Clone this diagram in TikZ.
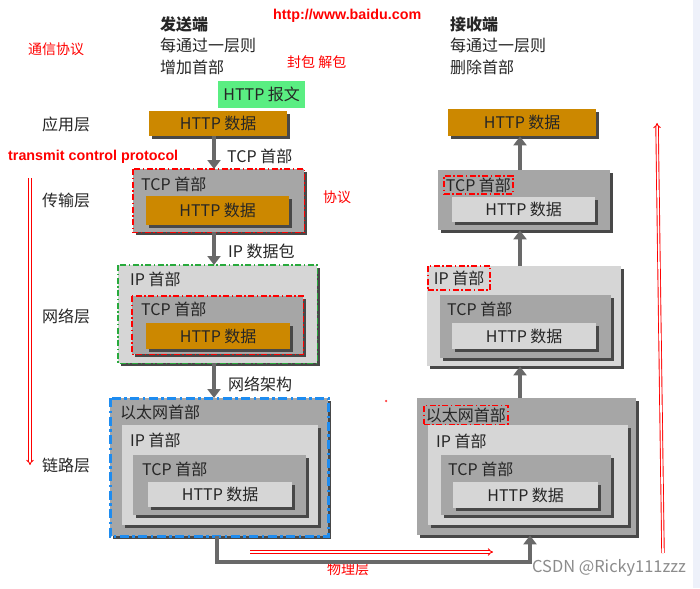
\documentclass[tikz,border=0pt]{standalone}
\usepackage{fontspec}
\setmainfont{Noto Sans CJK SC}
\newfontfamily\arialf{Liberation Sans}
\usetikzlibrary{arrows.meta,shadows}
\definecolor{orangeb}{RGB}{204,136,0}
\definecolor{midg}{RGB}{166,166,166}
\definecolor{lightg}{RGB}{214,214,214}
\definecolor{shd}{RGB}{72,72,72}
\definecolor{txt}{RGB}{38,38,38}
\definecolor{arrg}{RGB}{105,105,105}
\definecolor{greenb}{RGB}{90,238,130}
\definecolor{blued}{RGB}{30,140,240}
\definecolor{dgreen}{RGB}{40,170,60}
\definecolor{strip}{RGB}{238,241,250}
\definecolor{wm}{RGB}{140,140,140}
\tikzset{
  t/.style={font=\fontsize{16}{16}\selectfont,text=txt,inner sep=0pt,anchor=west},
  tb/.style={t,font=\fontsize{16}{16}\selectfont\bfseries},
  rt/.style={font=\fontsize{14}{14}\selectfont,text=red,inner sep=0pt,anchor=west},
  et/.style={font=\arialf\bfseries\fontsize{14.3}{14.3}\selectfont,text=red,inner sep=0pt,anchor=west},
  shd3/.style={drop shadow={shadow xshift=3pt,shadow yshift=-3pt,fill=shd,opacity=1}},
  boxa/.style={anchor=north west,inner sep=0pt,draw=none,font=\fontsize{16}{16}\selectfont,text=txt},
  rdd/.style={draw=red,line width=1.8pt,dash pattern=on 6pt off 2.5pt on 1.5pt off 2.5pt},
  gdd/.style={draw=dgreen,line width=1.8pt,dash pattern=on 6pt off 2.5pt on 1.5pt off 2.5pt},
  bdd/.style={draw=blued,line width=3pt,dash pattern=on 9pt off 3.5pt on 2.5pt off 3.5pt},
  garr/.style={draw=arrg,line width=4.5pt,-{Triangle[width=13pt,length=9pt]}},
  rarr/.style={draw=red,double=white,double distance=1.6pt,line width=0.9pt,-{Implies[scale=1.5]}},
}
\begin{document}
\begin{tikzpicture}[x=1pt,y=-1pt]
\useasboundingbox (0,0) rectangle (700,588);
\fill[white] (0,0) rectangle (700,588);
\fill[strip] (693,0) rectangle (700,588);

% headings
\node[tb] (sendh) at (160,24) {发送端};
\node[t] (send1) at (160,45) {每通过一层则};
\node[t] (send2) at (160,67) {增加首部};
\node[tb] (recvh) at (450,24) {接收端};
\node[t] (recv1) at (450,45) {每通过一层则};
\node[t] (recv2) at (450,67) {删除首部};
\node[et] (url) at (273,16) {http://www.baidu.com};
\node[rt] (txxy) at (28,49) {通信协议};
\node[rt] (fb) at (287,62) {封包 解包};
\node[rt] (xy) at (323,197) {协议};
\node[et] (tcpname) at (8,157) {transmit control protocol};
\node[rt] (wlc) at (327,569) {物理层};
\node[t,text=wm,font=\fontsize{16.4}{16.4}\selectfont] (csdn) at (532,568) {CSDN @Ricky111zzz};

% layer names
\node[t] (yy) at (42,124) {应用层};
\node[t] (cs) at (42,200) {传输层};
\node[t] (wl) at (42,316) {网络层};
\node[t] (ll) at (42,465) {链路层};

% ---------- sender ----------
\node[boxa,fill=greenb,minimum width=87pt,minimum height=27pt] (LG) at (218,81) {HTTP 报文};
\node[boxa,shd3,fill=orangeb,minimum width=138pt,minimum height=25pt] (L0) at (149,111) {HTTP 数据};

\node[boxa,shd3,fill=midg,minimum width=171pt,minimum height=63pt] (L1) at (133,169) {};
\node[t] (L1l) at (141,184) {TCP 首部};
\node[boxa,shd3,fill=orangeb,minimum width=143pt,minimum height=29pt] (L1h) at (146,196) {HTTP 数据};
\draw[rdd] (L1.north west) rectangle (L1.south east);

\node[boxa,shd3,fill=lightg,minimum width=199pt,minimum height=98pt] (L2) at (118,265) {};
\node[t] (L2l) at (130,279) {IP 首部};
\node[boxa,shd3,fill=midg,minimum width=171pt,minimum height=58pt] (L2t) at (132,296) {};
\node[t] (L2tl) at (141,309) {TCP 首部};
\node[boxa,shd3,fill=orangeb,minimum width=144pt,minimum height=26pt] (L2h) at (146,323) {HTTP 数据};
\draw[gdd] (L2.north west) rectangle (L2.south east);
\draw[rdd] (L2t.north west) rectangle (L2t.south east);

\node[boxa,shd3,fill=midg,minimum width=218pt,minimum height=138pt] (L3) at (110,398) {};
\node[t] (L3l) at (120,412) {以太网首部};
\node[boxa,shd3,fill=lightg,minimum width=196pt,minimum height=100pt] (L3i) at (122,425) {};
\node[t] (L3il) at (130,440) {IP 首部};
\node[boxa,shd3,fill=midg,minimum width=173pt,minimum height=60pt] (L3t) at (133,455) {};
\node[t] (L3tl) at (142,469) {TCP 首部};
\node[boxa,shd3,fill=lightg,minimum width=144pt,minimum height=25pt] (L3h) at (148,482) {HTTP 数据};
\draw[bdd] (L3.north west) rectangle (L3.south east);

% ---------- receiver ----------
\node[boxa,shd3,fill=orangeb,minimum width=148pt,minimum height=27pt] (R0) at (448,109) {HTTP 数据};

\node[boxa,shd3,fill=midg,minimum width=172pt,minimum height=60pt] (R1) at (438,170) {};
\node[t,rdd,inner xsep=2pt,inner ysep=2pt] (R1l) at (443,185) {TCP 首部};
\node[boxa,shd3,fill=lightg,minimum width=143pt,minimum height=25pt] (R1h) at (452,197) {HTTP 数据};

\node[boxa,shd3,fill=lightg,minimum width=194pt,minimum height=100pt] (R2) at (427,266) {};
\node[boxa,shd3,fill=midg,minimum width=171pt,minimum height=63pt] (R2t) at (440,295) {};
\node[t] (R2tl) at (447,309) {TCP 首部};
\node[boxa,shd3,fill=lightg,minimum width=144pt,minimum height=26pt] (R2h) at (452,323) {HTTP 数据};
\node[t,rdd,inner xsep=6pt,inner ysep=5pt] (R2l) at (427,278) {IP 首部};

\node[boxa,shd3,fill=midg,minimum width=219pt,minimum height=137pt] (R3) at (417,398) {};
\node[boxa,shd3,fill=lightg,minimum width=200pt,minimum height=100pt] (R3i) at (428,425) {};
\node[t] (R3il) at (436,441) {IP 首部};
\node[boxa,shd3,fill=midg,minimum width=170pt,minimum height=60pt] (R3t) at (441,455) {};
\node[t] (R3tl) at (448,469) {TCP 首部};
\node[boxa,shd3,fill=lightg,minimum width=145pt,minimum height=26pt] (R3h) at (453,482) {HTTP 数据};
\node[t,rdd,inner xsep=2pt,inner ysep=2pt] (R3l) at (423,415) {以太网首部};

% ---------- gray arrows ----------
\coordinate (ax) at (214,0);
\coordinate (bx) at (520,0);
\draw[garr] (L0.south -| ax) -- (L1.north -| ax);
\draw[garr] (L1.south -| ax) -- (L2.north -| ax);
\draw[garr] (L2.south -| ax) -- (L3.north -| ax);
\node[t] (a1) at (227,156) {TCP 首部};
\node[t] (a2) at (228,251) {IP 数据包};
\node[t] (a3) at (228,384) {网络架构};
\draw[garr] (R1.north -| bx) -- (R0.south -| bx);
\draw[garr] (R2.north -| bx) -- (R1.south -| bx);
\draw[garr] (R3.north -| bx) -- (R2.south -| bx);

\coordinate (p1) at (217,562);
\coordinate (p2) at (530,562);
\draw[draw=arrg,line width=4.5pt,-{Triangle[width=13pt,length=9pt]}] (L3.south -| p1) -- (p1) -- (p2) -- (R3.south -| p2);

% ---------- red arrows ----------
\coordinate (ra1) at (30,178);
\coordinate (ra2) at (30,465);
\coordinate (rb1) at (663,553);
\coordinate (rb2) at (657,123);
\coordinate (rc1) at (250,552);
\coordinate (rc2) at (493,552);
\draw[rarr] (ra1) -- (ra2);
\draw[rarr] (rb1) -- (rb2);
\draw[rarr] (rc1) -- (rc2);
\node[circle,fill=red!75,inner sep=0pt,minimum size=2.5pt] (mark) at (386,401) {};
\end{tikzpicture}
\end{document}
